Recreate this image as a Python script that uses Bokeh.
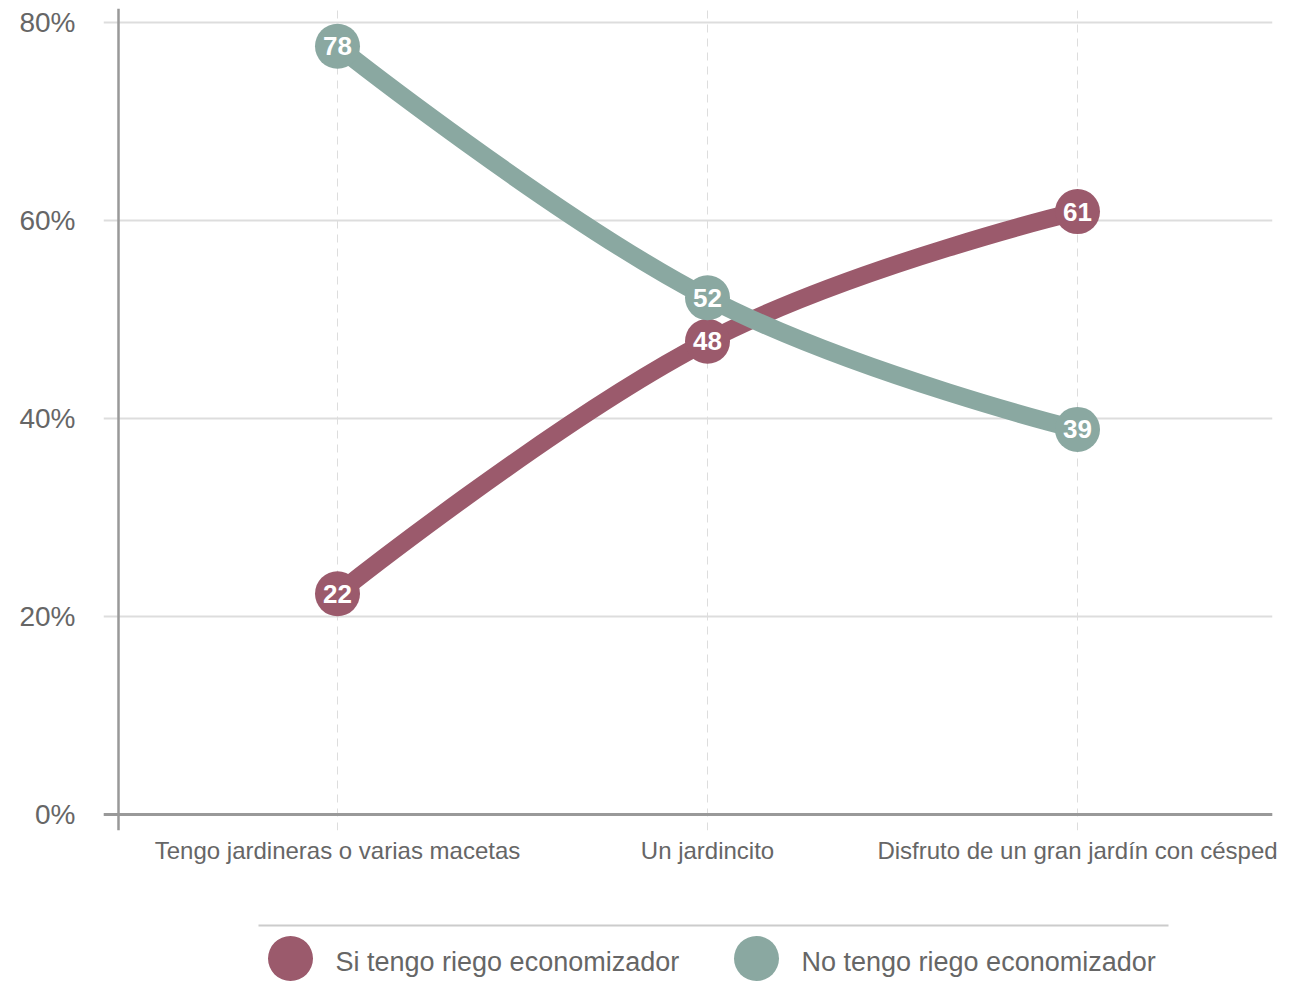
from bokeh.plotting import figure
from bokeh.models import Range1d, FixedTicker, Span, ColumnDataSource
from bokeh.layouts import column
from bokeh.embed import file_html
from bokeh.resources import INLINE
from bokeh.core.properties import value

# ---------------- data ----------------
categories = ["Tengo jardineras o varias macetas", "Un jardincito",
              "Disfruto de un gran jardín con césped"]
series_names = ["Si tengo riego economizador", "No tengo riego economizador"]
si_values = [22.3, 47.8, 60.9]
no_values = [77.6, 52.2, 38.9]
series_colors = ["#9b5a6c", "#8aa8a1"]
y_ticks = [0, 20, 40, 60, 80]

FONT = "Liberation Sans"
TEXT_GREY = "#666666"


def spline_controls(xs, ys, smoothing=1.5):
    """Highcharts-like spline control points computed from the data."""
    n = len(xs)
    left = [None] * n
    right = [None] * n
    d = smoothing + 1
    for i in range(1, n - 1):
        px, py = xs[i], ys[i]
        lx, ly = xs[i - 1], ys[i - 1]
        nx, ny = xs[i + 1], ys[i + 1]
        lcx = (smoothing * px + lx) / d
        lcy = (smoothing * py + ly) / d
        rcx = (smoothing * px + nx) / d
        rcy = (smoothing * py + ny) / d
        if rcx != lcx:
            corr = ((rcy - lcy) * (rcx - px)) / (rcx - lcx) + py - rcy
            lcy += corr
            rcy += corr
        if lcy > ly and lcy > py:
            lcy = max(ly, py); rcy = 2 * py - lcy
        elif lcy < ly and lcy < py:
            lcy = min(ly, py); rcy = 2 * py - lcy
        if rcy > ny and rcy > py:
            rcy = max(ny, py); lcy = 2 * py - rcy
        elif rcy < ny and rcy < py:
            rcy = min(ny, py); lcy = 2 * py - rcy
        left[i] = (lcx, lcy)
        right[i] = (rcx, rcy)
    seg = dict(x0=[], y0=[], x1=[], y1=[], cx0=[], cy0=[], cx1=[], cy1=[])
    for i in range(n - 1):
        seg["x0"].append(xs[i]); seg["y0"].append(ys[i])
        seg["x1"].append(xs[i + 1]); seg["y1"].append(ys[i + 1])
        c0 = right[i] if right[i] else (xs[i], ys[i])
        c1 = left[i + 1] if left[i + 1] else (xs[i + 1], ys[i + 1])
        seg["cx0"].append(c0[0]); seg["cy0"].append(c0[1])
        seg["cx1"].append(c1[0]); seg["cy1"].append(c1[1])
    return seg


# ---------------- main chart ----------------
W = 1304
BL, BR = 103, 32
px_per_cat = 370.0
px_per_pct = 9.9
frame_w, frame_h = W - BL - BR, 822
x_start = -234 / px_per_cat
y_start = -16 / px_per_pct

p = figure(width=W, height=896, output_backend="svg", toolbar_location=None,
           x_range=Range1d(x_start, x_start + frame_w / px_per_cat),
           y_range=Range1d(y_start, y_start + frame_h / px_per_pct),
           min_border_left=BL, min_border_right=BR, min_border_top=8,
           min_border_bottom=66)
p.outline_line_color = None
p.background_fill_color = "white"
p.border_fill_color = "white"

xs = list(range(len(categories)))

# grids
p.ygrid.ticker = FixedTicker(ticks=y_ticks)
p.ygrid.grid_line_color = "#dddddd"
p.ygrid.grid_line_width = 2
p.xgrid.ticker = FixedTicker(ticks=xs)
p.xgrid.grid_line_color = "#dddddd"
p.xgrid.grid_line_width = 1
p.xgrid.grid_line_dash = "8 6"

# axes
p.yaxis.ticker = FixedTicker(ticks=y_ticks)
p.yaxis.major_label_overrides = {t: f"{t}%" for t in y_ticks}
p.yaxis.axis_line_color = None
p.yaxis.major_tick_line_color = None
p.yaxis.minor_tick_line_color = None
p.yaxis.major_label_standoff = 22
p.yaxis.major_label_text_font_size = "28px"
p.yaxis.major_label_text_color = TEXT_GREY
p.yaxis.major_label_text_font = FONT

p.xaxis.ticker = FixedTicker(ticks=xs)
p.xaxis.major_label_overrides = {i: c for i, c in enumerate(categories)}
p.xaxis.axis_line_color = None
p.xaxis.major_tick_line_color = None
p.xaxis.minor_tick_line_color = None
p.xaxis.major_label_standoff = 0
p.xaxis.major_label_text_font_size = "24px"
p.xaxis.major_label_text_color = TEXT_GREY
p.xaxis.major_label_text_font = FONT

# axis lines
p.add_layout(Span(location=0, dimension="width", line_color="#999999", line_width=3))
p.add_layout(Span(location=x_start + 15 / px_per_cat, dimension="height",
                  line_color="#999999", line_width=2.5))

# series
for vals, color in zip([si_values, no_values], series_colors):
    seg = spline_controls(xs, vals)
    p.bezier(x0="x0", y0="y0", x1="x1", y1="y1", cx0="cx0", cy0="cy0",
             cx1="cx1", cy1="cy1", source=ColumnDataSource(seg),
             line_color=color, line_width=18, line_cap="round")
    src = ColumnDataSource(dict(x=xs, y=vals, label=[f"{round(v)}" for v in vals]))
    p.scatter("x", "y", source=src, size=45, fill_color=color, line_color=None)
    p.text("x", "y", text="label", source=src, text_color="white",
           text_font=value(FONT), text_font_size="26px", text_font_style="bold",
           text_align="center", text_baseline="middle")

# ---------------- legend ----------------
# page-pixel coordinates inside a frame aligned with the main chart
LH = 88
lg = figure(width=W, height=LH, output_backend="svg", toolbar_location=None,
            x_range=Range1d(BL, W - BR), y_range=Range1d(LH, 0),
            min_border_left=BL, min_border_right=BR, min_border_top=0,
            min_border_bottom=0)
lg.outline_line_color = None
lg.axis.visible = False
lg.grid.visible = False
lg.segment(x0=[258], y0=[29], x1=[1168], y1=[29], line_color="#cccccc", line_width=2)
leg_x = [290, 756]
lsrc = ColumnDataSource(dict(x=leg_x, y=[62] * 2, tx=[x + 45 for x in leg_x],
                             ty=[65] * 2, name=series_names, color=series_colors))
lg.scatter("x", "y", source=lsrc, size=45, fill_color="color", line_color=None)
lg.text("tx", "ty", text="name", source=lsrc, text_color=TEXT_GREY,
        text_font=value(FONT), text_font_size="27px",
        text_align="left", text_baseline="middle")

layout = column(p, lg, spacing=0)
open("out.html", "w").write(file_html(layout, INLINE))
